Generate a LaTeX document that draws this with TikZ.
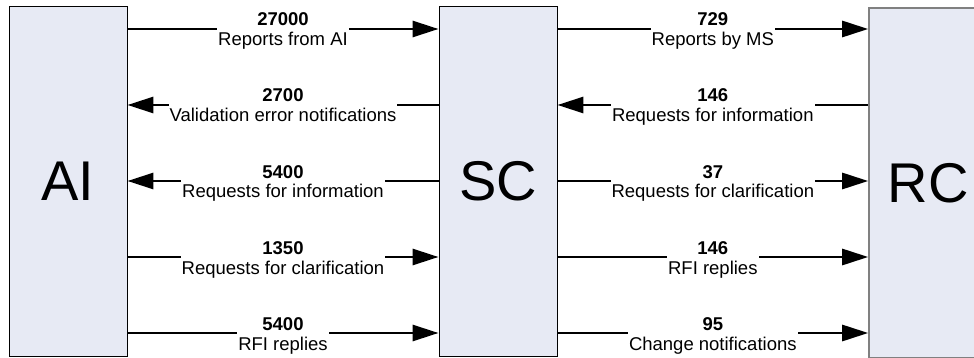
\documentclass[tikz,border=0pt]{standalone}
\usepackage{fontspec}
\setmainfont{Liberation Sans}
\usetikzlibrary{arrows.meta}
\definecolor{boxfill}{HTML}{E7EAF4}
\definecolor{rcedge}{HTML}{808080}
\tikzset{
  party/.style={draw=black, line width=0.9pt, fill=boxfill, inner sep=0pt,
    minimum width=118pt, minimum height=350pt,
    font=\fontsize{56}{60}\selectfont},
  flow/.style={line width=2.8pt, -{Triangle[length=26pt,width=16pt]}},
  backflow/.style={line width=2.8pt, {Triangle[length=26pt,width=16pt]}-},
  lbl/.style={fill=white, inner xsep=1pt, inner ysep=0pt, align=center,
    font=\fontsize{18.5}{20}\selectfont, yshift=-3pt}
}
\newcommand{\flowlabel}[2]{\textbf{#1}\strut\\#2\strut}
\begin{document}
\begin{tikzpicture}[x=1pt,y=-1pt]
  \clip (0,0) rectangle (974,358);
  \fill[white] (0,0) rectangle (974,358);

  % the three parties
  \node[party] (ai) at (68,181) {AI};
  \node[party] (sc) at (498,181) {SC};
  \node[party, draw=rcedge, line width=1.6pt] (rc) at (928,183) {RC};

  % row heights of the message flows
  \coordinate (r1) at (0,29);
  \coordinate (r2) at (0,105);
  \coordinate (r3) at (0,181);
  \coordinate (r4) at (0,257);
  \coordinate (r5) at (0,333);

  % AI <-> SC
  \draw[flow] (ai.east |- r1) -- node[lbl]{\flowlabel{27000}{Reports from AI}} (sc.west |- r1);
  \draw[backflow] (ai.east |- r2) -- node[lbl]{\flowlabel{2700}{Validation error notifications}} (sc.west |- r2);
  \draw[backflow] (ai.east |- r3) -- node[lbl]{\flowlabel{5400}{Requests for information}} (sc.west |- r3);
  \draw[flow] (ai.east |- r4) -- node[lbl]{\flowlabel{1350}{Requests for clarification}} (sc.west |- r4);
  \draw[flow] (ai.east |- r5) -- node[lbl]{\flowlabel{5400}{RFI replies}} (sc.west |- r5);

  % SC <-> RC
  \draw[flow] (sc.east |- r1) -- node[lbl]{\flowlabel{729}{Reports by MS}} (rc.west |- r1);
  \draw[backflow] (sc.east |- r2) -- node[lbl]{\flowlabel{146}{Requests for information}} (rc.west |- r2);
  \draw[flow] (sc.east |- r3) -- node[lbl]{\flowlabel{37}{Requests for clarification}} (rc.west |- r3);
  \draw[flow] (sc.east |- r4) -- node[lbl]{\flowlabel{146}{RFI replies}} (rc.west |- r4);
  \draw[flow] (sc.east |- r5) -- node[lbl]{\flowlabel{95}{Change notifications}} (rc.west |- r5);
\end{tikzpicture}
\end{document}
